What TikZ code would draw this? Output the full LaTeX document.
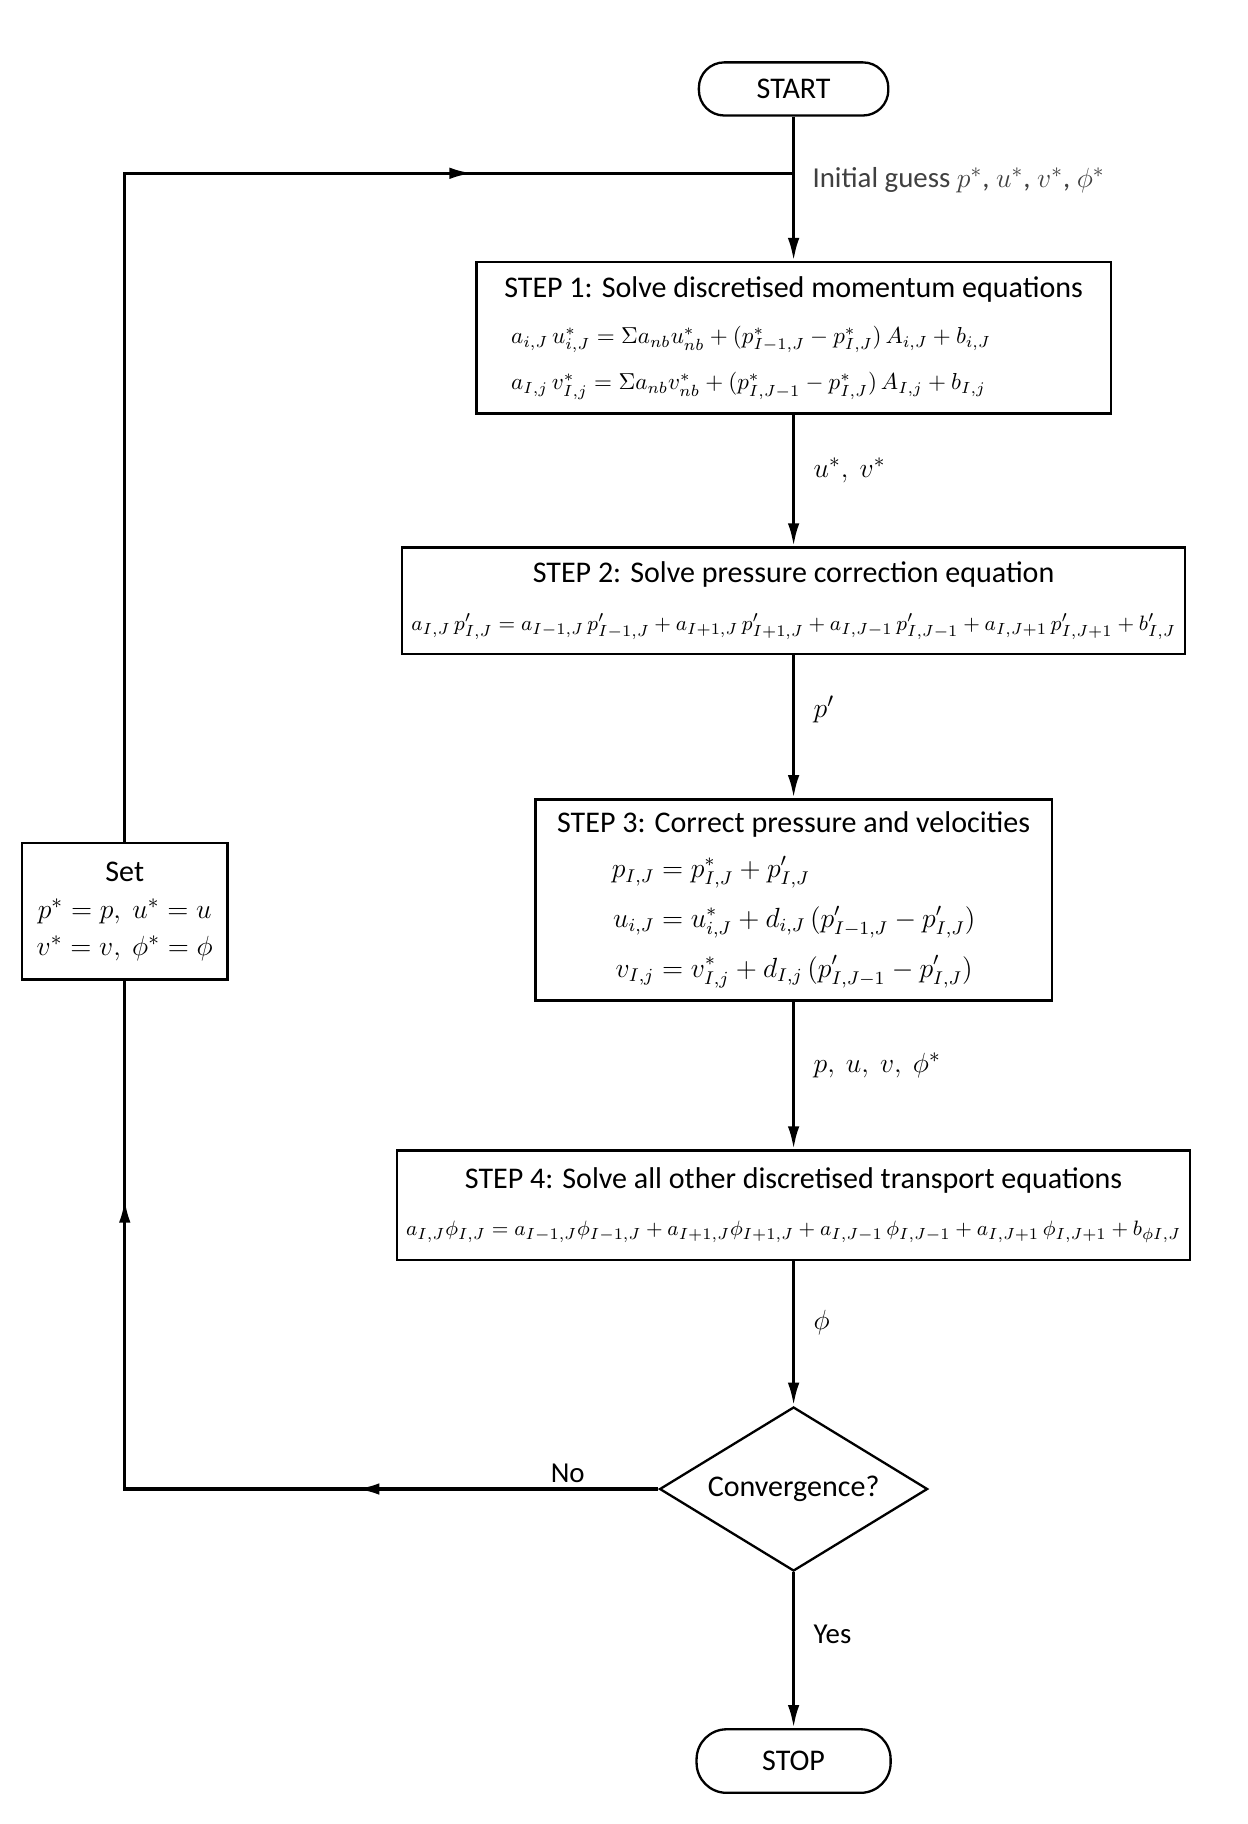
\documentclass[tikz,border=0pt]{standalone}
\usepackage{amsmath}
\usepackage{fontspec}
\setmainfont{Carlito}
\usetikzlibrary{arrows.meta,positioning,shapes.geometric,decorations.markings}
\newcommand{\eqsize}{\fontsize{9.8}{15}\selectfont}
\newcommand{\eqsmall}{\fontsize{9.3}{15}\selectfont}
\tikzset{
  flow/.tip={Latex[length=10pt,width=5pt]},
  box/.style={draw, line width=1pt, align=center, inner sep=4pt, fill=white, font=\fontsize{13}{15}\selectfont},
  terminal/.style={box, rounded corners=11pt, minimum width=82pt, minimum height=23pt},
  stepbox/.style={box},
  decision/.style={box, diamond, aspect=1.63, inner sep=0pt, minimum width=116pt, minimum height=71pt},
  line/.style={-flow, line width=1.4pt},
  link/.style={line width=1.4pt, line join=miter},
  tag/.style={font=\fontsize{12.5}{15}\selectfont, inner sep=2pt}
}

\begin{document}
\begin{tikzpicture}[x=0.5pt, y=-0.5pt]
  \useasboundingbox (0,0) rectangle (1080,1579);

  \node[terminal] (start) at (687,77) {START};
  \node[stepbox, below=62.5pt of start, minimum width=274.5pt, minimum height=65.5pt, align=left] (s1)
    {STEP 1: Solve discretised momentum equations\\[5pt]
     \hspace*{3pt}{\eqsize $a_{i,J}\,u^*_{i,J} = \Sigma a_{nb}u^*_{nb} + (p^*_{I-1,J} - p^*_{I,J})\,A_{i,J} + b_{i,J}$}\\[5pt]
     \hspace*{3pt}{\eqsize $a_{I,j}\,v^*_{I,j} = \Sigma a_{nb}v^*_{nb} + (p^*_{I,J-1} - p^*_{I,J})\,A_{I,j} + b_{I,j}$}};
  \node[stepbox, below=57pt of s1, minimum width=337.5pt, minimum height=46pt] (s2)
    {STEP 2: Solve pressure correction equation\\[6pt]
     {\eqsmall $a_{I,J}\,p'_{I,J} = a_{I-1,J}\,p'_{I-1,J} + a_{I+1,J}\,p'_{I+1,J} + a_{I,J-1}\,p'_{I,J-1} + a_{I,J+1}\,p'_{I,J+1} + b'_{I,J}$}};
  \node[stepbox, below=62pt of s2, minimum width=223.5pt, minimum height=87pt] (s3)
    {STEP 3: Correct pressure and velocities\\[6pt]
     {\fontsize{11.5}{15}\selectfont $\begin{aligned}
       p_{I,J} &= p^*_{I,J} + p'_{I,J}\\[2.5pt]
       u_{i,J} &= u^*_{i,J} + d_{i,J}\,(p'_{I-1,J} - p'_{I,J})\\[2.5pt]
       v_{I,j} &= v^*_{I,j} + d_{I,j}\,(p'_{I,J-1} - p'_{I,J})
     \end{aligned}$}};
  \node[stepbox, below=64pt of s3, minimum width=343pt, minimum height=47.5pt] (s4)
    {STEP 4: Solve all other discretised transport equations\\[5.5pt]
     {\eqsmall $a_{I,J}\phi_{I,J} = a_{I-1,J}\phi_{I-1,J} + a_{I+1,J}\phi_{I+1,J} + a_{I,J-1}\,\phi_{I,J-1} + a_{I,J+1}\,\phi_{I,J+1} + b_{\phi I,J}$}};
  \node[decision, below=62.5pt of s4] (conv) {Convergence?};
  \node[terminal, below=67.5pt of conv, minimum width=84pt, minimum height=27.5pt, rounded corners=13pt] (stop) {STOP};
  \node[stepbox, minimum width=89pt, minimum height=59pt] (set) at (108,789)
    {Set\\[1pt] $p^* = p,\ u^* = u$\\[1pt] $v^* = v,\ \phi^* = \phi$};

  % loop corners
  \coordinate (join) at (start |- 0,150);
  \coordinate (cTop) at (set |- join);
  \coordinate (cNo) at (set |- conv.west);

  \draw[line] (start) -- (s1);
  \node[tag, anchor=west, text=black!75] (guess) at ([xshift=6pt,yshift=-3pt]join)
    {Initial guess $p^*$, $u^*$, $v^*$, $\phi^*$};
  \draw[line] (s1) -- node[tag, pos=0.42, right=6pt] {$u^*,\ v^*$} (s2);
  \draw[line] (s2) -- node[tag, pos=0.38, right=6pt] {$p'$} (s3);
  \draw[line] (s3) -- node[tag, pos=0.43, right=6pt] {$p,\ u,\ v,\ \phi^*$} (s4);
  \draw[line] (s4) -- node[tag, pos=0.42, right=6pt] {$\phi$} (conv);
  \draw[line] (conv) -- node[tag, pos=0.4, right=6pt] {Yes} (stop);

  \draw[link, postaction={decorate, decoration={markings,
      mark=at position 0.29 with {\arrow{flow}},
      mark=at position 0.79 with {\arrow{flow}}}}]
    (conv.west) -- node[tag, above, pos=0.17] {No} (cNo) -- (set.south);
  \draw[link, postaction={decorate, decoration={markings,
      mark=at position 0.76 with {\arrow{flow}}}}]
    (set.north) -- (cTop) -- (join);
\end{tikzpicture}
\end{document}
